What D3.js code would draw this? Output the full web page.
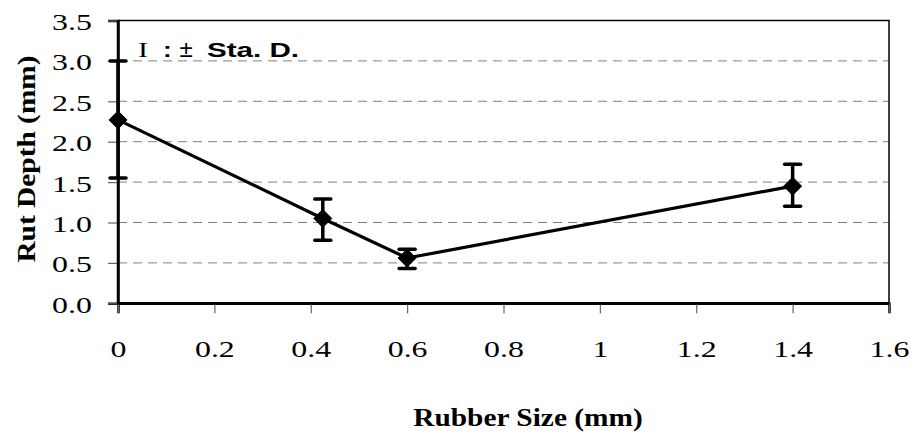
<!DOCTYPE html>
<html><head><meta charset="utf-8">
<script src="https://cdn.jsdelivr.net/npm/d3@7"></script>
<style>
body{margin:0;background:#fff}
.serif{font-family:"Liberation Serif","Times New Roman","DejaVu Serif",serif}
.sans{font-family:"Liberation Sans",Arial,sans-serif}
</style>
</head><body>
<svg id="c" width="917" height="438"></svg>
<script>
const sizes = [0, 0.425, 0.6, 1.4];
const rutDepth = [2.27, 1.05, 0.56, 1.45];
const errUpper = [3.0, 1.29, 0.67, 1.72];
const errLower = [1.55, 0.78, 0.43, 1.20];
const xTicks = [0, 0.2, 0.4, 0.6, 0.8, 1, 1.2, 1.4, 1.6];
const yTicks = [0, 0.5, 1.0, 1.5, 2.0, 2.5, 3.0, 3.5];
const xTitle = "Rubber Size (mm)";
const yTitle = "Rut Depth (mm)";

const svg = d3.select("#c");
const L = 118, T = 20.5, R = 889, B = 303.3;
const x = d3.scaleLinear().domain([0, 1.6]).range([L, R]);
const y = d3.scaleLinear().domain([0, 3.5]).range([B, T]);

// gridlines
svg.append("g").selectAll("line").data(yTicks.filter(v => v > 0 && v < 3.5)).join("line")
  .attr("x1", L).attr("x2", R).attr("y1", d => y(d)).attr("y2", d => y(d))
  .attr("stroke", "#808080").attr("stroke-width", 1).attr("stroke-dasharray", "9,6");

// frame top/right
svg.append("path").attr("d", `M${L},${T}H${R}V${B}`).attr("fill", "none").attr("stroke", "#000").attr("stroke-width", 1.5);

// y axis
const gy = svg.append("g").attr("transform", `translate(${L},0)`)
  .call(d3.axisLeft(y).tickValues(yTicks).tickFormat(d3.format(".1f")).tickSize(10).tickPadding(0));
gy.attr("font-family", null).attr("font-size", null);
gy.select(".domain").attr("stroke", "#000").attr("stroke-width", 2.5);
gy.selectAll(".tick line").attr("stroke", "#666").attr("stroke-width", 1.2);
gy.selectAll(".tick text").attr("x", 0).attr("dy", "0.33em").attr("class", "serif")
  .attr("transform", "translate(-26,1) scale(1.33,1)")
  .style("font-size", "24px").attr("fill", "#000");

// x axis
const gx = svg.append("g").attr("transform", `translate(0,${B})`)
  .call(d3.axisBottom(x).tickValues(xTicks).tickFormat(d => String(d)).tickSize(10).tickPadding(0));
gx.attr("font-family", null).attr("font-size", null);
gx.select(".domain").attr("stroke", "#000").attr("stroke-width", 2.5);
gx.selectAll(".tick line").attr("stroke", "#666").attr("stroke-width", 1.2);
gx.selectAll(".tick text").attr("y", 0).attr("dy", 0).attr("class", "serif")
  .attr("transform", "translate(0,54) scale(1.33,1)")
  .style("font-size", "24px").attr("fill", "#000");

// left/bottom axis lines solid black on top
svg.append("path").attr("d", `M${L},${T}V${B}H${R}`).attr("fill", "none").attr("stroke", "#000").attr("stroke-width", 2.5);

const pts = sizes.map((s, i) => ({s, v: rutDepth[i], hi: errUpper[i], lo: errLower[i]}));

// error bars
const eb = svg.append("g");
eb.selectAll("line.v").data(pts).join("line").attr("class", "v")
  .attr("x1", d => x(d.s)).attr("x2", d => x(d.s)).attr("y1", d => y(d.hi)).attr("y2", d => y(d.lo))
  .attr("stroke", "#000").attr("stroke-width", 3.5);
eb.selectAll("line.h").data(pts.flatMap(d => [{s: d.s, v: d.hi}, {s: d.s, v: d.lo}])).join("line").attr("class", "h")
  .attr("x1", d => x(d.s) - 8).attr("x2", d => x(d.s) + 8).attr("y1", d => y(d.v)).attr("y2", d => y(d.v))
  .attr("stroke", "#000").attr("stroke-width", 3.5).attr("stroke-linecap", "round");

// line
svg.append("path").datum(pts)
  .attr("d", d3.line().x(d => x(d.s)).y(d => y(d.v)))
  .attr("fill", "none").attr("stroke", "#000").attr("stroke-width", 3.2).attr("stroke-linejoin", "round");

// markers
svg.append("g").selectAll("path").data(pts).join("path")
  .attr("transform", d => `translate(${x(d.s)},${y(d.v)})`)
  .attr("d", "M0,-9L9,0L0,9L-9,0Z").attr("fill", "#000").attr("stroke", "#000").attr("stroke-width", 1).attr("stroke-linejoin", "round");

// legend note
const lg = svg.append("g");
lg.append("text").attr("class", "serif").attr("transform", "translate(138,56.5) scale(1.5,1)")
  .style("font-size", "20px").text("I");
lg.append("text").attr("class", "sans").attr("transform", "translate(163,56.5) scale(1.3,1)")
  .style("font-weight", "bold").style("font-size", "20px").text(":");
lg.append("text").attr("class", "sans").attr("transform", "translate(179.5,57) scale(1.05,1)")
  .style("font-size", "23px").text("±");
lg.append("text").attr("class", "sans").attr("transform", "translate(207,56.5) scale(1.48,1)")
  .style("font-weight", "bold").style("font-size", "20px").text("Sta. D.");

// axis titles
svg.append("text").attr("class", "serif").attr("transform", "translate(528,426) scale(1.13,1)").attr("text-anchor", "middle")
  .style("font-weight", "bold").style("font-size", "26px").text(xTitle);
svg.append("text").attr("class", "serif").attr("transform", "translate(35,159) rotate(-90) scale(1.13,1)").attr("text-anchor", "middle")
  .style("font-weight", "bold").style("font-size", "26px").text(yTitle);
</script>
</body></html>
